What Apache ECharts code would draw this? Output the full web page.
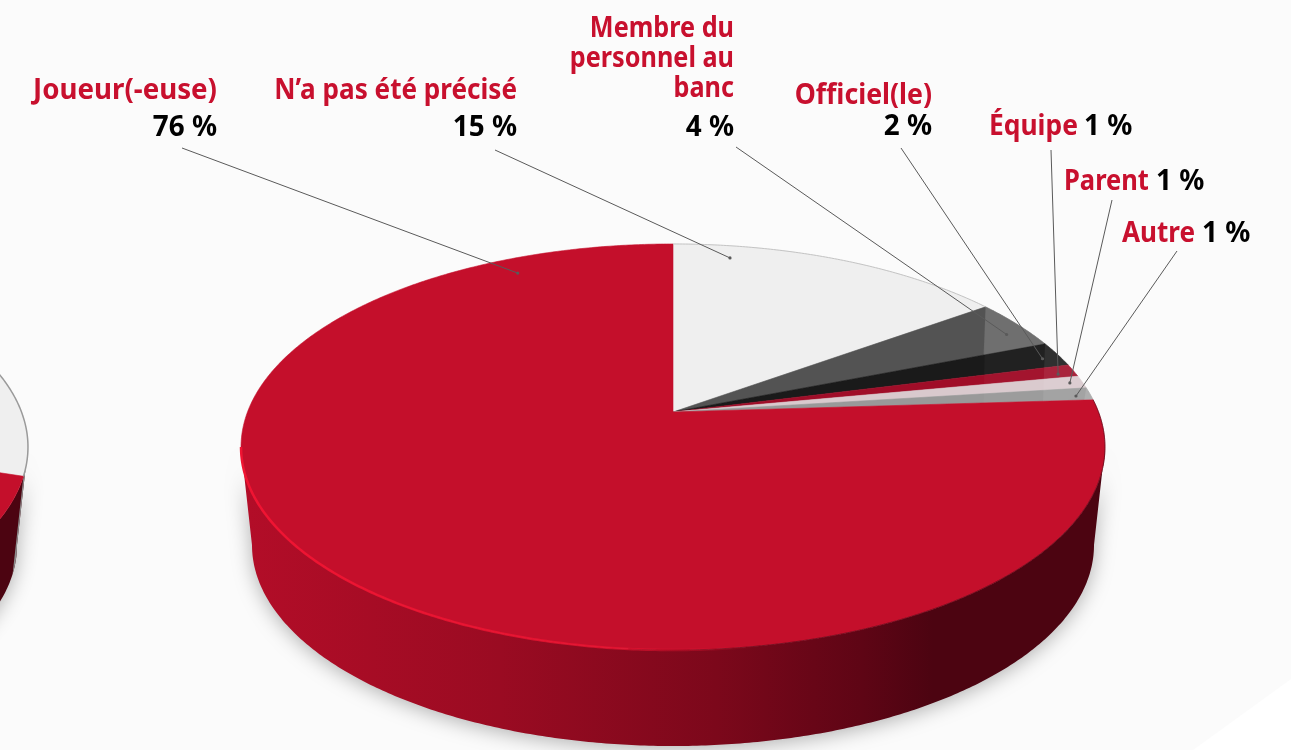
<!DOCTYPE html>
<html>
<head>
<meta charset="utf-8">
<title>Pie</title>
<script src="https://cdn.jsdelivr.net/npm/echarts@6/dist/echarts.min.js"></script>
<style>
  html, body { margin: 0; padding: 0; background: #fbfbfb; }
  #chart { width: 1291px; height: 750px; }
</style>
</head>
<body>
<div id="chart"></div>
<script>
// data
const categories = ["N’a pas été précisé", "Membre du\npersonnel au\nbanc", "Officiel(le)", "Équipe", "Parent", "Autre", "Joueur(-euse)"];
const values = [15, 4, 2, 1, 1, 1, 76];
const valueLabels = ["15 %", "4 %", "2 %", "1 %", "1 %", "1 %", "76 %"];
const sideChartValues = [30, 70]; // pie cut off by the left edge, only the right side shows

// colours
const sliceColors = ["#efefef", "#535353", "#1a1a1a", "#a00d28", "#d9c9cd", "#999999", "#c40f2b"];
const sideColors = ["#efefef", "#c40f2b"];

// where the leader line lands inside each slice: share of the slice, share of the radius
const leaderShare = [0.18, 0.65, 0.6, 0.67, 0.5, 0.64, 0.9];
const leaderRadius = [0.917, 0.941, 0.954, 0.957, 0.969, 0.964, 0.904];

// layout of the labels, same order as categories
const labelLayout = [
  { nameX: 517, nameY: 100, valueX: 517, valueY: 137, nameAlign: "right", valueAlign: "right", fromX: 495, fromY: 150, nameScale: 0.9 },
  { nameX: 734, nameY: 38, valueX: 734, valueY: 137, nameAlign: "right", valueAlign: "right", fromX: 736, fromY: 147, nameScale: 0.87 },
  { nameX: 932, nameY: 105, valueX: 932, valueY: 136, nameAlign: "right", valueAlign: "right", fromX: 901, fromY: 148, nameScale: 0.92 },
  { nameX: 989, nameY: 136, valueX: 1084, valueY: 136, nameAlign: "left", valueAlign: "left", fromX: 1051, fromY: 150, nameScale: 0.91 },
  { nameX: 1064, nameY: 191, valueX: 1156, valueY: 191, nameAlign: "left", valueAlign: "left", fromX: 1112, fromY: 200, nameScale: 0.88 },
  { nameX: 1122, nameY: 243, valueX: 1202, valueY: 243, nameAlign: "left", valueAlign: "left", fromX: 1177, fromY: 251, nameScale: 0.9 },
  { nameX: 217, nameY: 100, valueX: 217, valueY: 137, nameAlign: "right", valueAlign: "right", fromX: 182, fromY: 148, nameScale: 0.955 }
];
const lineHeight = 30;
const labelFont = 'bold 29px "Noto Sans"';
const valueScale = 0.96;
const baselineShift = 24; // text is placed from its top, y values above are baselines

// perspective of the disc: the centre of the pie is not the centre of the ellipse
const K = 0.1724;
const TOP = { cy: 412, a: 425.5, b: 197 };
const BOTTOM = { cy: 510.4, a: 414.7, b: 195 };
const MAIN_X = 673;
const SIDE_X = -404;
const WALL_FROM = 99.9; // degrees where the rim turns from back to front
const WALL_TO = 260.1;

function project(plane, cx, deg, r) {
  const t = deg * Math.PI / 180;
  const u = r * Math.sin(t);
  const v = r * Math.cos(t);
  const d = 1 + K * v;
  return [cx + plane.a * u / d, plane.cy - plane.b * v / d];
}

function arc(plane, cx, from, to) {
  const pts = [];
  const n = Math.max(2, Math.ceil(Math.abs(to - from) * 2));
  for (let i = 0; i <= n; i++) {
    pts.push(project(plane, cx, from + (to - from) * i / n, 1));
  }
  return pts;
}

function starts(list) {
  let sum = 0;
  return list.map(v => {
    const s = sum;
    sum += v;
    return s;
  });
}

const mainStarts = starts(values);
const sideStarts = starts(sideChartValues);
const pct = 3.6;

function wall(cx, from, to, fill, shadow) {
  const pts = arc(TOP, cx, from, to).concat(arc(BOTTOM, cx, to, from));
  const style = { fill: fill, stroke: "none" };
  if (shadow) {
    style.shadowBlur = 20;
    style.shadowColor = "rgba(0,0,0,0.3)";
    style.shadowOffsetY = 3;
  }
  return { type: "polygon", shape: { points: pts }, style: style };
}

function slice(cx, start, value, color) {
  const pts = [[cx, TOP.cy]].concat(arc(TOP, cx, start * pct, (start + value) * pct));
  return { type: "polygon", shape: { points: pts }, style: { fill: color, stroke: color, lineWidth: 0.6 } };
}

// lighter facets near the rim of the small slices
function facet(fromPct, toPct, alpha) {
  const a = project(TOP, MAIN_X, fromPct * pct, 1);
  const e = project(TOP, MAIN_X, toPct * pct, 1);
  const drop = TOP.cy + (a[0] - MAIN_X) * (e[1] - TOP.cy) / (e[0] - MAIN_X);
  const pts = arc(TOP, MAIN_X, fromPct * pct, toPct * pct).concat([[a[0] - 2, drop]]);
  return { type: "polygon", shape: { points: pts }, style: { fill: "rgba(255,255,255," + alpha + ")" } };
}

const wallGradient = {
  type: "linear", x: 241, y: 0, x2: 1105, y2: 0, global: true,
  colorStops: [
    { offset: 0, color: "#b30d28" },
    { offset: 0.3, color: "#9a0b22" },
    { offset: 0.55, color: "#7c081b" },
    { offset: 0.72, color: "#5e0515" },
    { offset: 0.8, color: "#4c0411" },
    { offset: 1, color: "#4c0411" }
  ]
};
const rimGradient = {
  type: "linear", x: 241, y: 0, x2: 760, y2: 0, global: true,
  colorStops: [
    { offset: 0, color: "rgba(240,20,50,1)" },
    { offset: 0.7, color: "rgba(240,20,50,0.7)" },
    { offset: 1, color: "rgba(240,20,50,0)" }
  ]
};

function renderDisc(params, api) {
  const children = [];
  if (api.value(0) === 0) {
    // side pie first, it stays under everything else
    const sideEdge = sideChartValues[0] * pct;
    children.push(wall(SIDE_X, WALL_FROM, WALL_TO, "#4c0411", true));
    children.push(wall(SIDE_X, WALL_FROM, sideEdge, "#8c8c8c", false));
    sideChartValues.forEach((v, i) => children.push(slice(SIDE_X, sideStarts[i], v, sideColors[i])));
    children.push({ type: "polyline", shape: { points: arc(TOP, SIDE_X, 40, sideEdge) }, style: { stroke: "#9a9a9a", lineWidth: 1.5, fill: "none" } });
    children.push(wall(MAIN_X, WALL_FROM, WALL_TO, wallGradient, true));
    values.forEach((v, i) => children.push(slice(MAIN_X, mainStarts[i], v, sliceColors[i])));
    const end = mainStarts[6];
    children.push(facet(mainStarts[1], mainStarts[2], 0.14));
    children.push(facet(mainStarts[1], end, 0.03));
    children.push(facet(mainStarts[2], end, 0.07));
    children.push(facet(mainStarts[5], end, 0.12));
    children.push({ type: "polyline", shape: { points: arc(TOP, MAIN_X, 0, values[0] * pct) }, style: { stroke: "#c4c4c4", lineWidth: 1, fill: "none" } });
    children.push({ type: "polyline", shape: { points: arc(TOP, MAIN_X, end * pct, 185) }, style: { stroke: "rgba(60,0,12,0.55)", lineWidth: 1, fill: "none" } });
    children.push({ type: "polyline", shape: { points: arc(TOP, MAIN_X, 170, WALL_TO) }, style: { stroke: rimGradient, lineWidth: 2.5, fill: "none" } });
  }
  return { type: "group", children: children };
}

function textEl(str, x, y, align, color, scale) {
  return {
    type: "text",
    x: x,
    y: y - baselineShift,
    scaleX: scale,
    style: { text: str, x: 0, y: 0, font: labelFont, fill: color, align: align }
  };
}

function renderLabel(params, api) {
  const i = api.value(0);
  const start = api.value(1);
  const value = api.value(2);
  const lay = labelLayout[i];
  const to = project(TOP, MAIN_X, (start + value * leaderShare[i]) * pct, leaderRadius[i]);
  const children = [
    { type: "line", shape: { x1: lay.fromX, y1: lay.fromY, x2: to[0], y2: to[1] }, style: { stroke: "#5a5a5a", lineWidth: 1 } },
    { type: "circle", shape: { cx: to[0], cy: to[1], r: 1.6 }, style: { fill: "#5a5a5a" } }
  ];
  categories[i].split("\n").forEach((line, n) => {
    children.push(textEl(line, lay.nameX, lay.nameY + n * lineHeight, lay.nameAlign, "#c8102e", lay.nameScale));
  });
  children.push(textEl(valueLabels[i], lay.valueX, lay.valueY, lay.valueAlign, "#000000", valueScale));
  return { type: "group", children: children };
}

const chart = echarts.init(document.getElementById("chart"));
chart.setOption({
  backgroundColor: "#fbfbfb",
  animation: false,
  tooltip: { show: false },
  graphic: [
    // white corner of the page
    { type: "polygon", z: 0, shape: { points: [[1291, 679], [1291, 750], [1193, 750]] }, style: { fill: "#ffffff" } }
  ],
  series: [
    {
      type: "custom",
      coordinateSystem: "none",
      silent: true,
      z: 2,
      renderItem: renderDisc,
      data: [[0]]
    },
    {
      type: "custom",
      coordinateSystem: "none",
      silent: true,
      z: 3,
      renderItem: renderLabel,
      data: values.map((v, i) => [i, mainStarts[i], v])
    }
  ]
});
</script>
</body>
</html>
